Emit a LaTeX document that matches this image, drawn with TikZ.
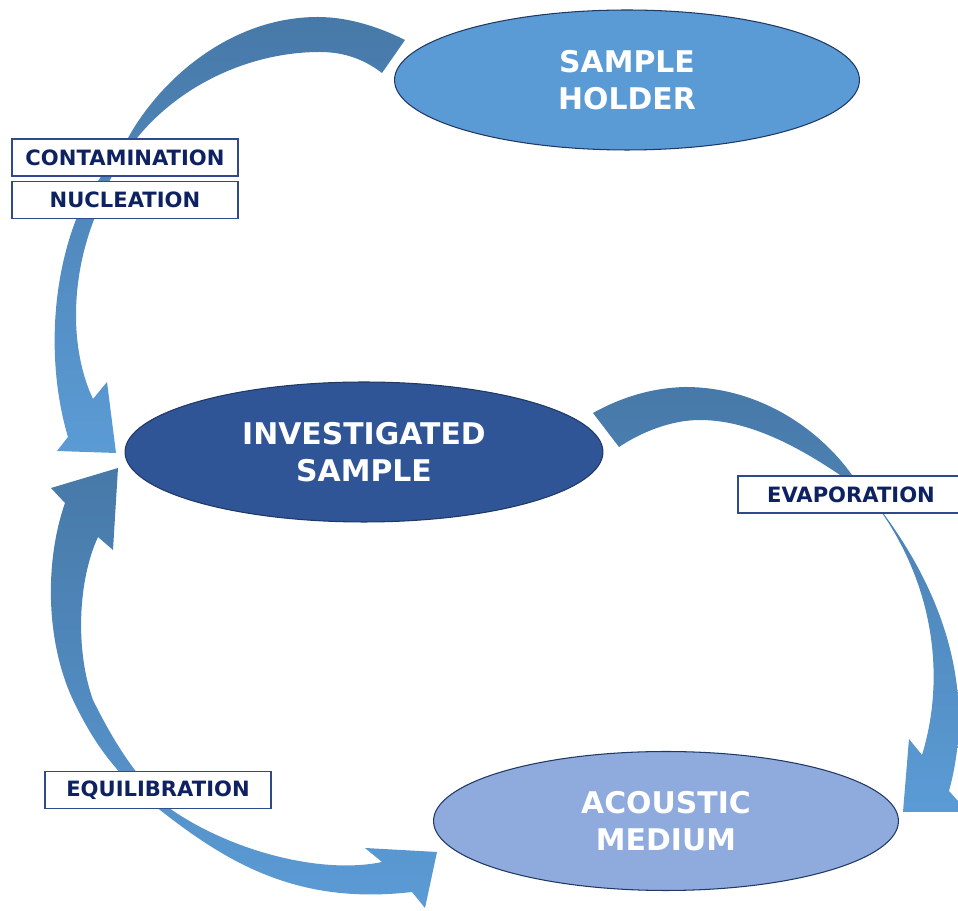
\documentclass[tikz,border=0pt]{standalone}
\usepackage{fontspec}
\setmainfont{DejaVu Sans}
\usepackage{tikz}
\usetikzlibrary{shapes, positioning}

\definecolor{holderblue}{HTML}{5B9BD5}
\definecolor{samplenavy}{HTML}{2F5597}
\definecolor{mediumblue}{HTML}{8FAADC}
\definecolor{arrowdark}{HTML}{4779A8}
\definecolor{arrowlight}{HTML}{5B9BD5}
\definecolor{edgenavy}{HTML}{203864}
\definecolor{tagedge}{HTML}{2E4A8A}
\definecolor{tagnavy}{HTML}{0E2160}

\tikzstyle{stage} = [ellipse, draw=edgenavy, line width=0.6pt, inner sep=0pt, text=white, align=center, font=\fontsize{17}{21}\selectfont\bfseries]
\tikzstyle{tag} = [rectangle, minimum width=4.52cm, minimum height=0.74cm, inner sep=0pt, text centered, draw=tagedge, line width=0.9pt, fill=white, text=tagnavy, font=\fontsize{12}{14}\selectfont\bfseries]
\tikzstyle{flow} = [top color=arrowdark, bottom color=arrowlight]

\begin{document}
\begin{tikzpicture}[x=0.02cm, y=-0.02cm]

    \useasboundingbox (0,0) rectangle (958,911);

    % curved block arrows: outer edge, head, inner edge back
    \shade [flow] (405,40) .. controls (375,25) and (345,17) .. (318,17)
        .. controls (230,17) and (160,80) .. (128,138)
        .. controls (105,170) and (88,195) .. (77,217)
        .. controls (50,285) and (48,370) .. (68,437)
        -- (57,451) -- (116,453) -- (107,382) -- (93,399)
        .. controls (70,350) and (70,280) .. (95,217)
        .. controls (105,185) and (120,160) .. (137,138)
        .. controls (180,85) and (250,52) .. (320,52)
        .. controls (345,52) and (365,60) .. (382,73) -- cycle;
    \shade [flow] (593,413) .. controls (620,398) and (650,388) .. (685,387)
        .. controls (760,387) and (820,430) .. (852,475)
        .. controls (915,545) and (985,660) .. (949,791)
        -- (968,812) -- (903,812) -- (909,739) -- (922,755)
        .. controls (945,680) and (935,590) .. (882,513)
        .. controls (870,497) and (855,485) .. (840,475)
        .. controls (800,448) and (750,420) .. (700,420)
        .. controls (670,420) and (640,433) .. (619,447) -- cycle;
    \shade [flow] (118,468) -- (51,488) -- (65,503)
        .. controls (45,560) and (45,640) .. (73,700)
        .. controls (90,735) and (110,770) .. (160,810)
        .. controls (230,865) and (300,905) .. (412,892)
        -- (425,908) -- (437,852) -- (365,848) -- (382,862)
        .. controls (320,875) and (230,850) .. (172,810)
        .. controls (150,790) and (125,765) .. (93,700)
        .. controls (75,650) and (78,580) .. (98,537)
        -- (113,550) -- cycle;

    \node (holder) [stage, fill=holderblue, minimum width=9.3cm, minimum height=2.8cm] at (627,80) {SAMPLE\\HOLDER};
    \node (sample) [stage, fill=samplenavy, minimum width=9.56cm, minimum height=2.8cm] at (364,452) {INVESTIGATED\\SAMPLE};
    \node (medium) [stage, fill=mediumblue, minimum width=9.3cm, minimum height=2.78cm] at (666,821) {ACOUSTIC\\MEDIUM};

    \node (contam) [tag] at (125,157.5) {CONTAMINATION};
    \node (nucl) [tag, below=0.08cm of contam] {NUCLEATION};
    \node (evap) [tag] at (851,494.5) {EVAPORATION};
    \node (equil) [tag] at (158,790) {EQUILIBRATION};

\end{tikzpicture}
\end{document}
